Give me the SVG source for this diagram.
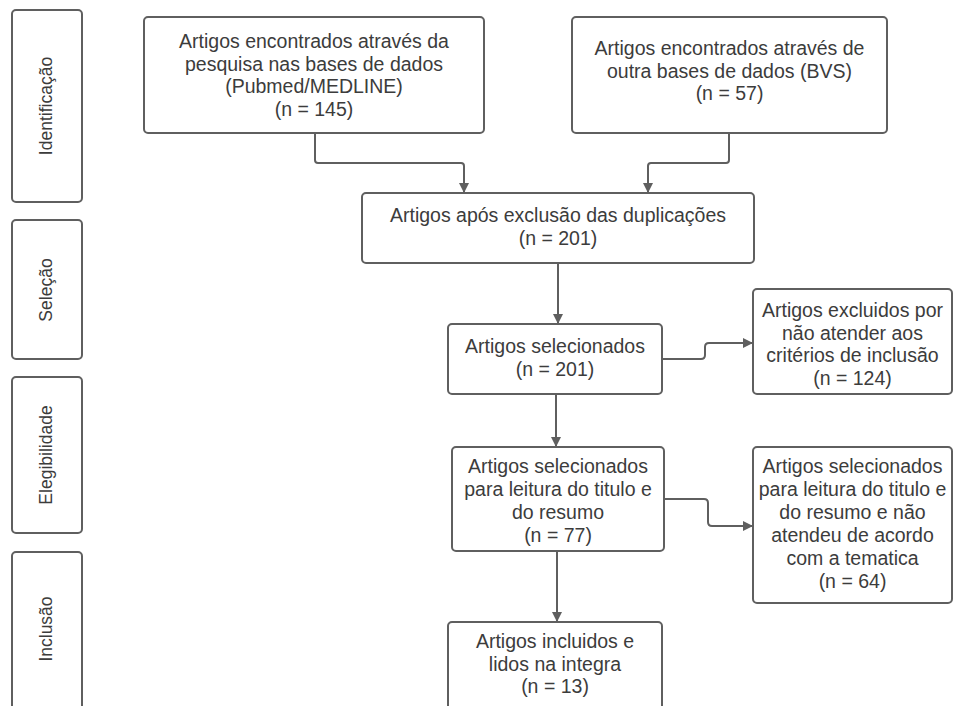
<svg xmlns="http://www.w3.org/2000/svg" width="959" height="706" viewBox="0 0 959 706">
<style>
.box{fill:#fff;stroke:#5f5f5f;stroke-width:2}
.t{font-family:"Liberation Sans",Arial,sans-serif;font-size:19.5px;fill:#3c3c3c;text-anchor:middle}
.p{font-size:17.5px}
.c{fill:none;stroke:#5f5f5f;stroke-width:2}
</style>
<defs>
<marker id="ah" viewBox="0 0 10 10" refX="10" refY="5" markerWidth="10" markerHeight="10" markerUnits="userSpaceOnUse" orient="auto">
<path d="M0,0 L10,5 L0,10 Z" fill="#5f5f5f"/>
</marker>
</defs>
<rect width="959" height="706" fill="#fff"/>
<g id="phase-identificacao"><rect class="box" x="12" y="10" width="70" height="192" rx="4"/><text class="t p" transform="translate(52,106) rotate(-90)">Identificação</text></g>
<g id="phase-selecao"><rect class="box" x="12" y="220" width="70" height="139" rx="4"/><text class="t p" transform="translate(52,290) rotate(-90)">Seleção</text></g>
<g id="phase-elegibilidade"><rect class="box" x="12" y="377" width="70" height="156" rx="4"/><text class="t p" transform="translate(52,455) rotate(-90)">Elegibilidade</text></g>
<g id="phase-inclusao"><rect class="box" x="12" y="552" width="70" height="170" rx="4"/><text class="t p" transform="translate(52,629) rotate(-90)">Inclusão</text></g>

<g id="connectors">
<path class="c" d="M315,133 V160 Q315,163 318,163 H461 Q464,163 464,166 V193" marker-end="url(#ah)"/>
<path class="c" d="M729,133 V160 Q729,163 726,163 H651 Q648,163 648,166 V193" marker-end="url(#ah)"/>
<path class="c" d="M558,263 V324" marker-end="url(#ah)"/>
<path class="c" d="M662,359 H701 Q705,359 705,355 V347 Q705,343 709,343 H753" marker-end="url(#ah)"/>
<path class="c" d="M556,394 V447" marker-end="url(#ah)"/>
<path class="c" d="M664,499 H704 Q708,499 708,503 V522 Q708,526 712,526 H753" marker-end="url(#ah)"/>
<path class="c" d="M557,551 V622" marker-end="url(#ah)"/>
</g>

<g id="n1"><rect class="box" x="144" y="17" width="340" height="116" rx="4"/>
<text class="t"><tspan x="314" y="48">Artigos encontrados através da</tspan><tspan x="314" y="70.5">pesquisa nas bases de dados</tspan><tspan x="314" y="93">(Pubmed/MEDLINE)</tspan><tspan x="314" y="115.5">(n = 145)</tspan></text></g>
<g id="n2"><rect class="box" x="572" y="17" width="315" height="116" rx="4"/>
<text class="t"><tspan x="729.5" y="55">Artigos encontrados através de</tspan><tspan x="729.5" y="77.5">outra bases de dados (BVS)</tspan><tspan x="729.5" y="100">(n = 57)</tspan></text></g>
<g id="n3"><rect class="box" x="362" y="193" width="392" height="70" rx="4"/>
<text class="t"><tspan x="558" y="222">Artigos após exclusão das duplicações</tspan><tspan x="558" y="245">(n = 201)</tspan></text></g>
<g id="n4"><rect class="box" x="448" y="324" width="214" height="70" rx="4"/>
<text class="t"><tspan x="555" y="353">Artigos selecionados</tspan><tspan x="555" y="376">(n = 201)</tspan></text></g>
<g id="n5"><rect class="box" x="753" y="289" width="199" height="105" rx="4"/>
<text class="t"><tspan x="852.5" y="317">Artigos excluidos por</tspan><tspan x="852.5" y="339.5">não atender aos</tspan><tspan x="852.5" y="362">critérios de inclusão</tspan><tspan x="852.5" y="384.5">(n = 124)</tspan></text></g>
<g id="n6"><rect class="box" x="452" y="447" width="212" height="104" rx="4"/>
<text class="t"><tspan x="558" y="473">Artigos selecionados</tspan><tspan x="558" y="496">para leitura do titulo e</tspan><tspan x="558" y="519">do resumo</tspan><tspan x="558" y="542">(n = 77)</tspan></text></g>
<g id="n7"><rect class="box" x="753" y="447" width="199" height="156" rx="4"/>
<text class="t"><tspan x="852.5" y="473">Artigos selecionados</tspan><tspan x="852.5" y="496">para leitura do titulo e</tspan><tspan x="852.5" y="519">do resumo e não</tspan><tspan x="852.5" y="542">atendeu de acordo</tspan><tspan x="852.5" y="565">com a tematica</tspan><tspan x="852.5" y="588">(n = 64)</tspan></text></g>
<g id="n8"><rect class="box" x="448" y="622" width="214" height="100" rx="4"/>
<text class="t"><tspan x="555" y="648">Artigos incluidos e</tspan><tspan x="555" y="670.5">lidos na integra</tspan><tspan x="555" y="693">(n = 13)</tspan></text></g>
</svg>
